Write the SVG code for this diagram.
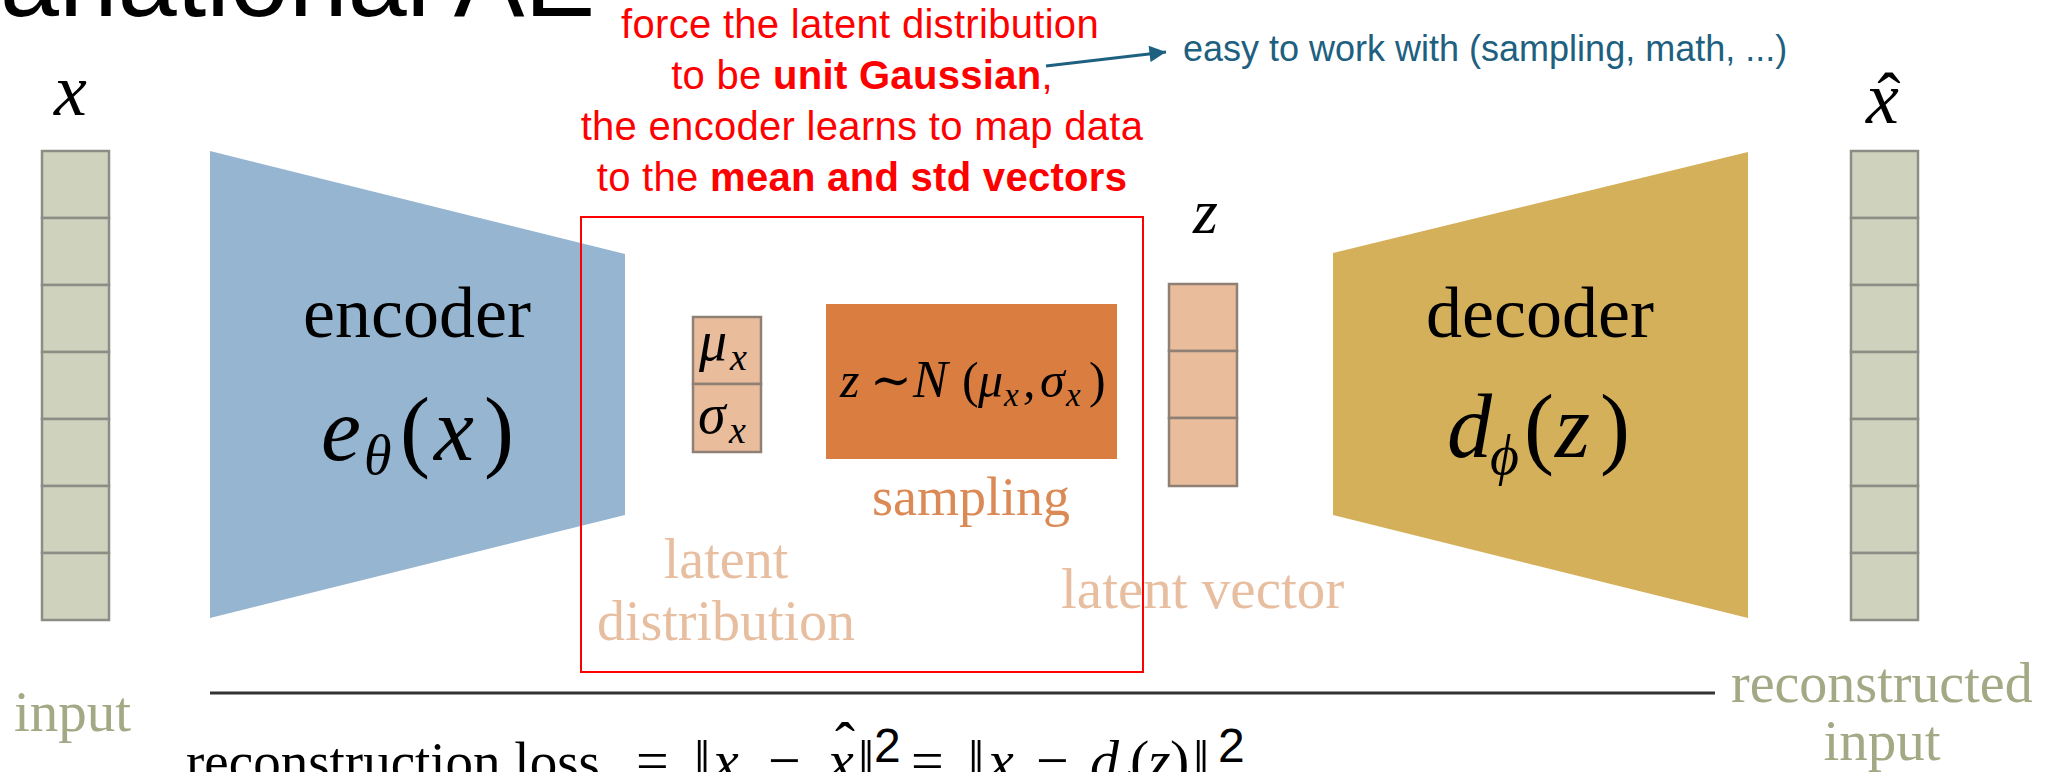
<svg xmlns="http://www.w3.org/2000/svg" width="2046" height="772" viewBox="0 0 2046 772">
<style>
.serif{font-family:"Liberation Serif","DejaVu Serif",serif}
.math{font-family:"Liberation Serif","DejaVu Serif",serif;font-style:italic;fill:#000}
.up{font-style:normal}
.sans{font-family:"Liberation Sans",Arial,sans-serif}
.red{font-family:"Liberation Sans",Arial,sans-serif;font-size:40px;fill:#ff0000;letter-spacing:0.3px;text-anchor:middle}
.blue{font-family:"Liberation Sans",Arial,sans-serif;font-size:36px;fill:#1d6080}
.cin{fill:#cfd3be;stroke:#8c8d84;stroke-width:2.5}
.cz{fill:#e9bc9c;stroke:#8f8076;stroke-width:2.5}
.olive{fill:#a4a985}
.peach{fill:#e8bea0}
.orange{fill:#dc8a55}
</style>
<defs>
<marker id="ah" viewBox="0 0 10 10" refX="10" refY="5" markerWidth="7" markerHeight="5.5" orient="auto">
<path d="M0,0 L10,5 L0,10 z" fill="#1d6080"/>
</marker>
</defs>

<g id="title">
<text class="sans" x="0" y="16" font-size="106" fill="#000">ariational AE</text>
</g>

<g id="note">
<text class="red" x="860" y="38">force the latent distribution</text>
<text class="red" x="862" y="89">to be <tspan font-weight="bold">unit Gaussian</tspan>,</text>
<text class="red" x="862" y="140">the encoder learns to map data</text>
<text class="red" x="862" y="191">to the <tspan font-weight="bold">mean and std vectors</tspan></text>
</g>

<g id="note-easy">
<text class="blue" x="1183" y="61">easy to work with (sampling, math, ...)</text>
</g>

<g id="input-vector">
<rect class="cin" x="42" y="151" width="67" height="67"/>
<rect class="cin" x="42" y="218" width="67" height="67"/>
<rect class="cin" x="42" y="285" width="67" height="67"/>
<rect class="cin" x="42" y="352" width="67" height="67"/>
<rect class="cin" x="42" y="419" width="67" height="67"/>
<rect class="cin" x="42" y="486" width="67" height="67"/>
<rect class="cin" x="42" y="553" width="67" height="67"/>
<text class="math" x="54" y="115" font-size="74">x</text>
<text class="serif olive" x="14" y="731" font-size="57">input</text>
</g>

<g id="encoder">
<polygon points="210,151 625,254 625,515 210,618" fill="#95b5d1"/>
<text class="serif" x="417" y="337" font-size="72" text-anchor="middle">encoder</text>
<text class="math" font-size="90"><tspan x="321" y="460">e</tspan><tspan x="364" y="474" font-size="56">θ</tspan><tspan class="up" x="400" y="460">(</tspan><tspan x="434" y="460">x</tspan><tspan class="up" x="484" y="460">)</tspan></text>
</g>

<g id="latent-distribution">
<rect class="cz" x="693" y="317" width="68" height="67"/>
<rect class="cz" x="693" y="384" width="68" height="68"/>
<text class="math" font-size="56"><tspan x="699" y="360">μ</tspan><tspan x="730" y="370" font-size="38">x</tspan></text>
<text class="math" font-size="56"><tspan x="698" y="433">σ</tspan><tspan x="729" y="443" font-size="38">x</tspan></text>
<text class="serif peach" x="726" y="578" font-size="56" text-anchor="middle">latent</text>
<text class="serif peach" x="726" y="640" font-size="56" text-anchor="middle">distribution</text>
</g>

<g id="sampling">
<rect x="826" y="304" width="291" height="155" fill="#d97d41"/>
<text class="math" font-size="50"><tspan x="840" y="397">z</tspan><tspan class="up" x="870" y="397">∼</tspan><tspan x="913" y="397" font-size="52">N</tspan><tspan class="up" x="962" y="397">(</tspan><tspan x="978" y="397">μ</tspan><tspan x="1004" y="406" font-size="33">x</tspan><tspan x="1023" y="397">,</tspan><tspan x="1040" y="397">σ</tspan><tspan x="1066" y="406" font-size="33">x</tspan><tspan class="up" x="1089" y="397">)</tspan></text>
<text class="serif orange" x="971" y="515" font-size="54" text-anchor="middle">sampling</text>
</g>

<g id="latent-box">
<rect x="581" y="217" width="562" height="455" fill="none" stroke="#ff0000" stroke-width="2"/>
</g>

<g id="latent-vector">
<rect class="cz" x="1169" y="284" width="68" height="67"/>
<rect class="cz" x="1169" y="351" width="68" height="67"/>
<rect class="cz" x="1169" y="418" width="68" height="68"/>
<text class="math" x="1193" y="233" font-size="64">z</text>
<text class="serif peach" x="1061" y="608" font-size="57">latent vector</text>
</g>

<g id="decoder">
<polygon points="1333,253 1748,152 1748,618 1333,515" fill="#d5b05b"/>
<text class="serif" x="1540" y="337" font-size="72" text-anchor="middle">decoder</text>
<text class="math" font-size="90"><tspan x="1447" y="457">d</tspan><tspan x="1490" y="474" font-size="56">ϕ</tspan><tspan class="up" x="1524" y="457">(</tspan><tspan x="1555" y="457">z</tspan><tspan class="up" x="1600" y="457">)</tspan></text>
</g>

<g id="output-vector">
<rect class="cin" x="1851" y="151" width="67" height="67"/>
<rect class="cin" x="1851" y="218" width="67" height="67"/>
<rect class="cin" x="1851" y="285" width="67" height="67"/>
<rect class="cin" x="1851" y="352" width="67" height="67"/>
<rect class="cin" x="1851" y="419" width="67" height="67"/>
<rect class="cin" x="1851" y="486" width="67" height="67"/>
<rect class="cin" x="1851" y="553" width="67" height="67"/>
<text class="math" x="1866" y="123" font-size="74">x</text>
<text class="serif" x="1889" y="121" font-size="70" text-anchor="middle">ˆ</text>
<text class="serif olive" x="1731" y="702" font-size="56">reconstructed</text>
<text class="serif olive" x="1882" y="760" font-size="57" text-anchor="middle">input</text>
</g>

<g id="loss">
<text class="serif" x="186" y="780" font-size="55">reconstruction loss</text>
<text class="math" font-size="58"><tspan class="up" x="636" y="780">=</tspan><tspan class="up" x="694" y="780">‖</tspan><tspan x="713" y="780">x</tspan><tspan class="up" x="768" y="780">−</tspan><tspan x="828" y="780">x</tspan><tspan class="up" x="858" y="780">‖</tspan><tspan class="up" x="874" y="796" font-size="36">2</tspan><tspan class="up" x="911" y="780">=</tspan><tspan class="up" x="968" y="780">‖</tspan><tspan x="988" y="780">x</tspan><tspan class="up" x="1036" y="780">−</tspan><tspan x="1090" y="780">d</tspan><tspan x="1117" y="796" font-size="36">ϕ</tspan><tspan class="up" x="1130" y="780">(</tspan><tspan x="1148" y="780">z</tspan><tspan class="up" x="1170" y="780">)</tspan><tspan class="up" x="1193" y="780">‖</tspan><tspan class="up" x="1221" y="796" font-size="36">2</tspan></text>
<text class="serif" x="845" y="763" font-size="60" text-anchor="middle">ˆ</text>
<text class="sans" x="874" y="762" font-size="48">2</text>
<text class="sans" x="1218" y="762" font-size="48">2</text>
</g>

<g id="connectors">
<line x1="1046" y1="66" x2="1166" y2="52" stroke="#1d6080" stroke-width="3" marker-end="url(#ah)"/>
<line x1="210" y1="693" x2="1715" y2="693" stroke="#333" stroke-width="3"/>
</g>
</svg>
